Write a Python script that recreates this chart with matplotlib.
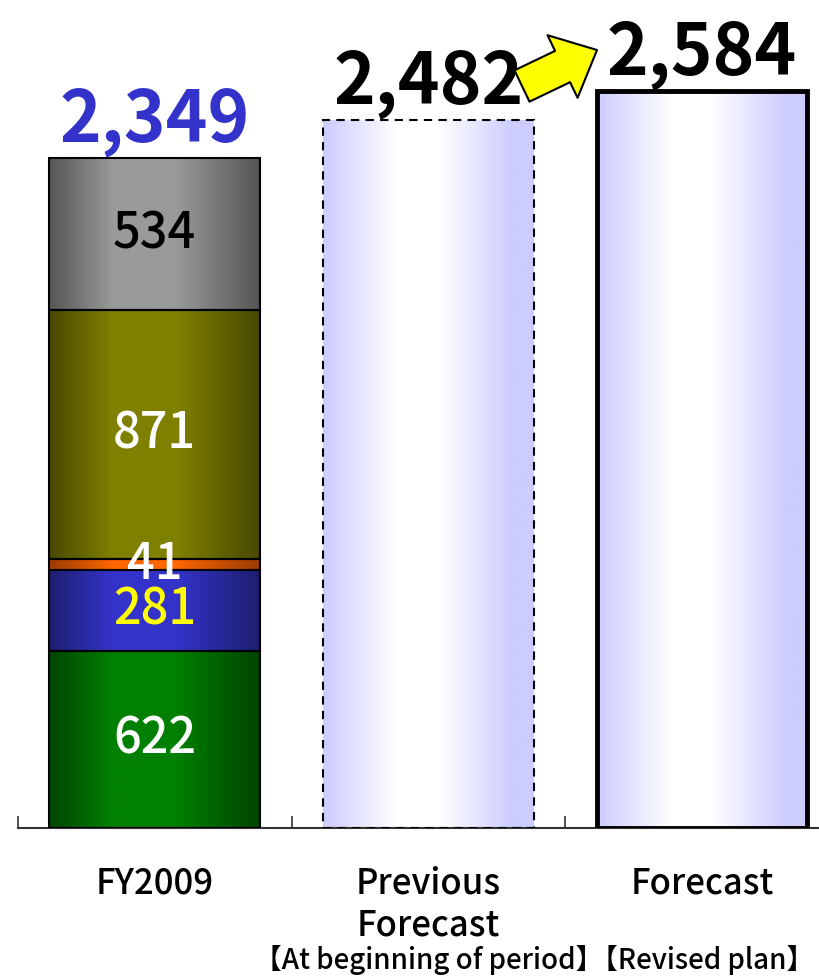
import matplotlib
matplotlib.use("Agg")
import matplotlib.pyplot as plt
import numpy as np
from matplotlib.colors import LinearSegmentedColormap

plt.rcParams["font.family"] = ["Noto Sans CJK JP", "DejaVu Sans"]

# FY2009 breakdown (bottom -> top)
seg_values = [622, 281, 41, 871, 534]
seg_edge = ["#004400", "#1e1e6e", "#9a3c00", "#484800", "#555555"]
seg_mid = ["#008000", "#3333cc", "#ff6600", "#808000", "#9a9a9a"]
seg_text = ["white", "yellow", "white", "white", "black"]

totals = [2349, 2482, 2584]
total_colors = ["#3333cc", "black", "black"]
cat_x = [0, 1, 2]


def grad_bar(ax, x, bottom, height, width, stops, **kw):
    rect = ax.bar(x, height, width, bottom=bottom, facecolor="none", zorder=3, **kw)[0]
    cmap = LinearSegmentedColormap.from_list("g", stops)
    grad = np.linspace(0, 1, 256).reshape(1, -1)
    im = ax.imshow(grad, cmap=cmap, aspect="auto", zorder=2,
                   extent=[x - width / 2, x + width / 2, bottom, bottom + height])
    im.set_clip_path(rect)
    return rect


fig = plt.figure(figsize=(8.2, 9.76), dpi=100)
ax = fig.add_axes([18 / 820, 148 / 976, 802 / 820, 828 / 976])

w = 0.77
bottom = 0
for v, ce, cm, tc in zip(seg_values, seg_edge, seg_mid, seg_text):
    stops = [(0, ce), (0.3, cm), (0.6, cm), (1, ce)]
    grad_bar(ax, cat_x[0], bottom, v, w, stops, edgecolor="black", linewidth=1.5)
    ax.text(cat_x[0], bottom + v / 2, str(v), ha="center", va="center",
            color=tc, fontsize=35, fontweight="medium", zorder=5)
    bottom += v

light = [(0, "#ccccff"), (0.35, "white"), (0.55, "white"), (0.9, "#ccccff"), (1, "#ccccff")]
grad_bar(ax, cat_x[1], 0, totals[1], w, light, edgecolor="black",
         linewidth=1.5, linestyle=(0, (4, 3)))
grad_bar(ax, cat_x[2], 0, totals[2], w, light, edgecolor="black", linewidth=3.5)

for x, t, c in zip(cat_x, totals, total_colors):
    ax.annotate(f"{t:,}", (x, t), xytext=(0, 1), textcoords="offset points",
                ha="center", va="bottom", fontsize=51, fontweight="bold", color=c)

# yellow arrow between the forecasts
ax.annotate("", xy=(597, 976 - 50), xytext=(522, 976 - 86), xycoords="figure pixels",
            arrowprops=dict(arrowstyle="simple,head_length=0.55,head_width=1.0,tail_width=0.5",
                            fc="yellow", ec="black", lw=1.5, mutation_scale=50,
                            shrinkA=0, shrinkB=0))

ax.set_xlim(-0.5, 2.432)
ax.set_ylim(0, 2903)
for s in ["top", "right", "left"]:
    ax.spines[s].set_visible(False)
ax.spines["bottom"].set_color("#333333")
ax.spines["bottom"].set_linewidth(1.5)
ax.set_yticks([])
ax.set_xticks([-0.5, 0.5, 1.5])
ax.set_xticklabels([])
ax.tick_params(axis="x", direction="in", length=9, width=1.2, color="#333333")

tr = ax.get_xaxis_transform()
ax.text(0, -55 / 828, "FY2009", transform=tr, ha="center", va="center",
        fontsize=25, fontweight="medium")
ax.text(1, -55 / 828, "Previous", transform=tr, ha="center", va="center",
        fontsize=25, fontweight="medium")
ax.text(1, -97 / 828, "Forecast", transform=tr, ha="center", va="center",
        fontsize=25, fontweight="medium")
ax.text(1, -132 / 828, "【At beginning of period】", transform=tr, ha="center",
        va="center", fontsize=20, fontweight="medium")
ax.text(2, -55 / 828, "Forecast", transform=tr, ha="center", va="center",
        fontsize=25, fontweight="medium")
ax.text(2, -132 / 828, "【Revised plan】", transform=tr, ha="center", va="center",
        fontsize=20, fontweight="medium")

fig.savefig("out.png", dpi=100)
